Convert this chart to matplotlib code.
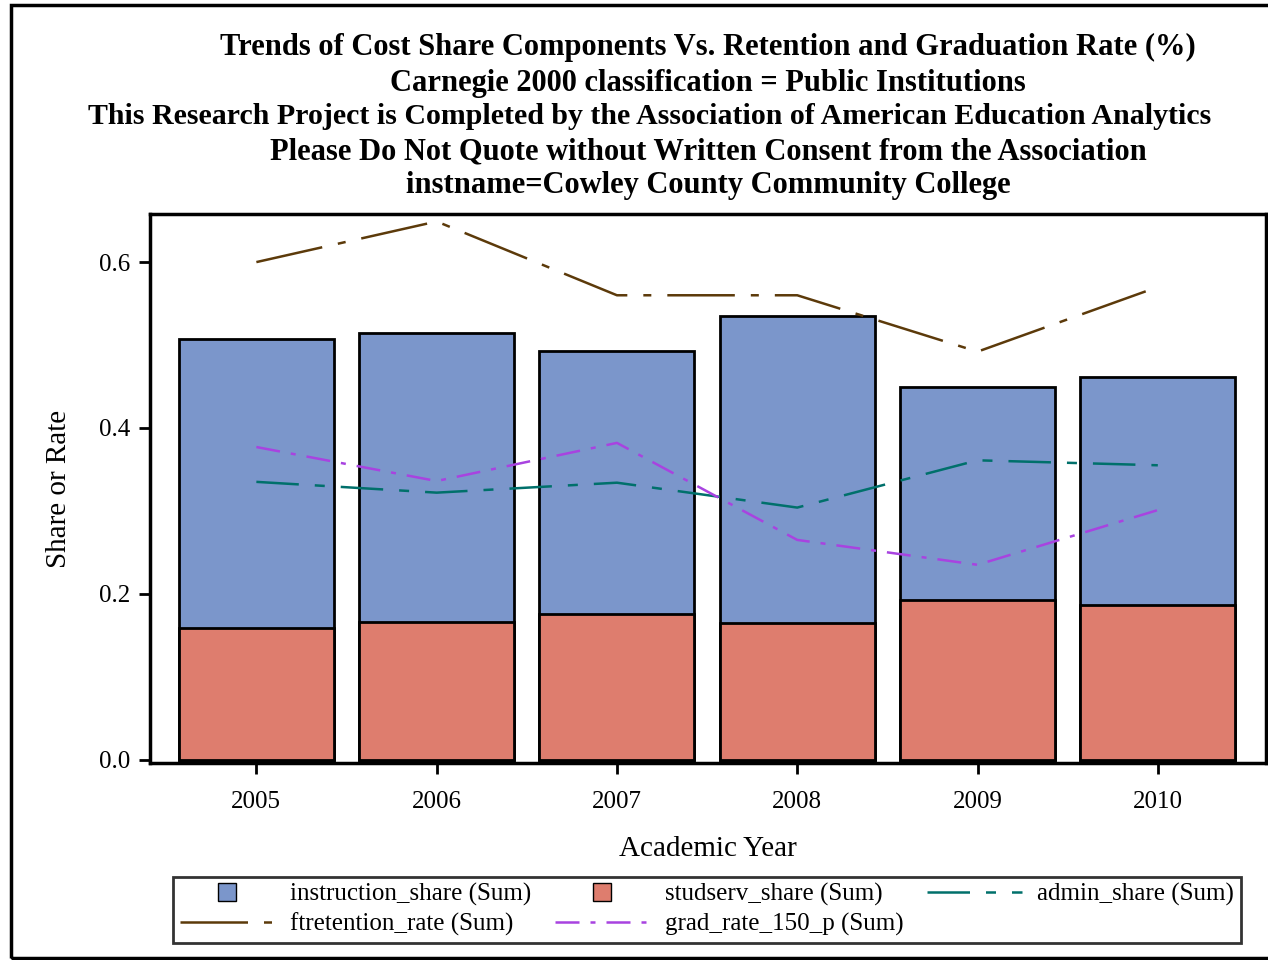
import matplotlib.pyplot as plt
from matplotlib.lines import Line2D
from matplotlib.patches import Rectangle

years = ["2005", "2006", "2007", "2008", "2009", "2010"]
instruction_share = [0.507, 0.514, 0.493, 0.535, 0.449, 0.461]
studserv_share = [0.159, 0.166, 0.176, 0.165, 0.192, 0.187]
admin_share = [0.335, 0.322, 0.334, 0.304, 0.361, 0.355]
ftretention_rate = [0.600, 0.649, 0.560, 0.560, 0.492, 0.570]
grad_rate_150_p = [0.377, 0.336, 0.382, 0.265, 0.235, 0.301]

titles = [
    "Trends of Cost Share Components Vs. Retention and Graduation Rate (%)",
    "Carnegie 2000 classification = Public Institutions",
    "This Research Project is Completed by the Association of American Education Analytics",
    "Please Do Not Quote without Written Consent from the Association",
    "instname=Cowley County Community College",
]

plt.rcParams["font.family"] = ["Liberation Serif", "DejaVu Serif"]

W, H = 1268, 960
fig = plt.figure(figsize=(W / 100, H / 100), dpi=100)
ax = fig.add_axes([150 / W, 1 - 763 / H, (1266 - 150) / W, (763 - 214) / H])

c_instr = "#7B96CB"
c_stud = "#DE7D6E"
c_admin = "#00706B"
c_ret = "#5C3A0A"
c_grad = "#A843E0"

d_admin = (17, 6.4, 4, 6.4)
d_ret = (27, 6.4, 3.2, 6.4)
d_grad = (9.6, 4.4, 2, 4.4)
lw = 1.8

x = list(range(len(years)))
ax.bar(x, instruction_share, width=0.86, color=c_instr, edgecolor="black", linewidth=2, zorder=2)
ax.bar(x, studserv_share, width=0.86, color=c_stud, edgecolor="black", linewidth=2, zorder=2)

ax.plot(x, admin_share, color=c_admin, lw=lw, dashes=d_admin, zorder=3)
ax.plot(x, ftretention_rate, color=c_ret, lw=lw, dashes=d_ret, zorder=3)
ax.plot(x, grad_rate_150_p, color=c_grad, lw=lw, dashes=d_grad, zorder=3)

ax.set_xlim(-0.59, 5.6)
ax.set_ylim(-0.004, 0.658)
ax.set_xticks(x)
ax.set_xticklabels(years)
ax.set_yticks([0.0, 0.2, 0.4, 0.6])
ax.set_yticklabels(["0.0", "0.2", "0.4", "0.6"])
ax.tick_params(axis="x", labelsize=18, width=2, length=8, pad=12)
ax.tick_params(axis="y", labelsize=18, width=2, length=8, pad=6)
for s in ax.spines.values():
    s.set_linewidth(2.5)

ax.set_xlabel("Academic Year", fontsize=21, labelpad=17)
ax.set_ylabel("Share or Rate", fontsize=21, labelpad=20)

ys = [47, 83, 117, 152, 186]
sizes = [22, 22, 21.5, 22, 22]
xs = [708, 708, 650, 708, 708]
for t, y, fs, xc in zip(titles, ys, sizes, xs):
    fig.text(xc / W, 1 - y / H, t, ha="center", va="center", fontsize=fs, fontweight="bold")

# outer frame
fig.add_artist(Rectangle((11 / W, 2 / H), 1.0, 1 - 7 / H, transform=fig.transFigure,
                         fill=False, edgecolor="black", linewidth=2.5, clip_on=False))

h_instr = Line2D([], [], marker="s", linestyle="none", markerfacecolor=c_instr,
                 markeredgecolor="black", markersize=13)
h_stud = Line2D([], [], marker="s", linestyle="none", markerfacecolor=c_stud,
                markeredgecolor="black", markersize=13)
h_admin = Line2D([], [], color=c_admin, lw=lw, dashes=d_admin)
h_ret = Line2D([], [], color=c_ret, lw=lw, dashes=d_ret)
h_grad = Line2D([], [], color=c_grad, lw=lw, dashes=d_grad)

handles = [h_instr, h_ret, h_stud, h_grad, h_admin]
labels = ["instruction_share (Sum)", "ftretention_rate (Sum)", "studserv_share (Sum)",
          "grad_rate_150_p (Sum)", "admin_share (Sum)"]
leg = fig.legend(handles, labels, ncol=3, loc="center", mode="expand",
                 bbox_to_anchor=(161 / W, 18 / H, 1092 / W, 65 / H),
                 bbox_transform=fig.transFigure, fontsize=18, frameon=True,
                 fancybox=False, handlelength=3.8, handletextpad=0.6,
                 labelspacing=0.28, borderpad=0.25, columnspacing=1.0)
leg.get_frame().set_edgecolor("black")
leg.get_frame().set_linewidth(2)

fig.savefig("out.png", dpi=100)
